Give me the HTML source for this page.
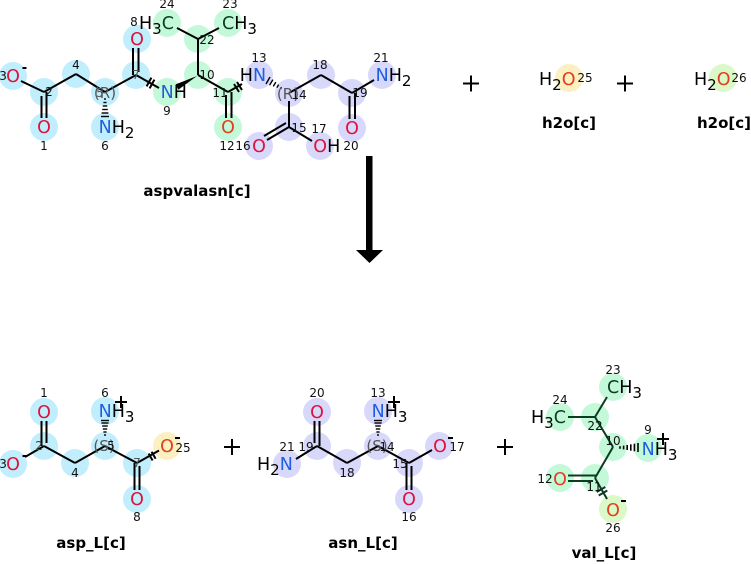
<!DOCTYPE html>
<html><head><meta charset="utf-8"><style>
html,body{margin:0;padding:0;background:#fff;}
svg{display:block;}
text{font-family:"DejaVu Sans","Liberation Sans",sans-serif;}
.a{font-size:17.5px;}
.s{font-size:15px;}
.n{font-size:12px;fill:#111;text-anchor:middle;}
.st{font-size:15px;fill:#555;text-anchor:middle;}
.nm{font-size:15px;font-weight:bold;fill:#000;text-anchor:middle;}
.O{fill:#dc143c;} .Oo{fill:#e0401a;} .N{fill:#1e5ee0;} .C{fill:#0b3d20;} .H{fill:#000;}
</style></head><body>
<svg width="751" height="564" viewBox="0 0 751 564" xmlns="http://www.w3.org/2000/svg">
<!-- ===== highlight circles top ===== -->
<g fill="#c0eefc">
<circle cx="13" cy="76" r="14"/><circle cx="44" cy="92" r="14"/><circle cx="76" cy="74" r="14"/>
<circle cx="105" cy="92" r="14"/><circle cx="44" cy="127" r="14"/><circle cx="105" cy="127" r="14"/>
<circle cx="136" cy="75" r="14"/><circle cx="137" cy="39" r="14"/>
</g>
<g fill="#c3f9d9">
<circle cx="167" cy="92" r="14"/><circle cx="198" cy="75" r="14"/><circle cx="198" cy="39" r="14"/>
<circle cx="167" cy="23" r="14"/><circle cx="228" cy="23" r="14"/><circle cx="228" cy="92" r="14"/>
<circle cx="228" cy="127" r="14"/>
</g>
<g fill="#d8d8fb">
<circle cx="259" cy="75" r="14"/><circle cx="289" cy="93" r="14"/><circle cx="321" cy="75" r="14"/>
<circle cx="352" cy="93" r="14"/><circle cx="382" cy="75" r="14"/><circle cx="352" cy="128" r="14"/>
<circle cx="289" cy="127" r="14"/><circle cx="259" cy="146" r="14"/><circle cx="320" cy="146" r="14"/>
</g>
<circle cx="569" cy="78" r="14" fill="#fcefc2"/>
<circle cx="723" cy="78" r="14" fill="#daf8c8"/>

<!-- ===== circles bottom ===== -->
<g fill="#c0eefc">
<circle cx="44" cy="412" r="14"/><circle cx="44" cy="446" r="14"/><circle cx="13" cy="464" r="14"/>
<circle cx="75" cy="463" r="14"/><circle cx="105" cy="446" r="14"/><circle cx="105" cy="411" r="14"/>
<circle cx="137" cy="463" r="14"/><circle cx="137" cy="499" r="14"/>
</g>
<circle cx="167" cy="446" r="14" fill="#fcefc2"/>
<g fill="#d8d8fb">
<circle cx="317" cy="412" r="14"/><circle cx="317" cy="446" r="14"/><circle cx="287" cy="464" r="14"/>
<circle cx="347" cy="463" r="14"/><circle cx="378" cy="446" r="14"/><circle cx="378" cy="411" r="14"/>
<circle cx="409" cy="463" r="14"/><circle cx="409" cy="499" r="14"/><circle cx="439" cy="446" r="14"/>
</g>
<g fill="#c3f9d9">
<circle cx="613" cy="387" r="14"/><circle cx="560" cy="417" r="14"/><circle cx="595" cy="417" r="14"/>
<circle cx="613" cy="447" r="14"/><circle cx="648" cy="448" r="14"/><circle cx="595" cy="478" r="14"/>
<circle cx="560" cy="478" r="14"/>
</g>
<circle cx="613" cy="509" r="14" fill="#daf8c8"/>

<!-- ===== bonds top ===== -->
<g stroke="#000" stroke-width="2" fill="none" stroke-linecap="butt">
<line x1="21" y1="81" x2="44" y2="92"/>
<line x1="41.5" y1="96" x2="41.5" y2="118"/><line x1="46.5" y1="92" x2="46.5" y2="118"/>
<line x1="44" y1="92" x2="76" y2="74"/>
<line x1="76" y1="74" x2="105" y2="92"/>
<line x1="105" y1="92" x2="136" y2="75"/>
<line x1="133" y1="48" x2="133" y2="75"/><line x1="138.5" y1="48" x2="138.5" y2="72"/>
<line x1="136" y1="75" x2="159" y2="88"/>
<line x1="198" y1="75" x2="198" y2="39"/>
<line x1="198" y1="39" x2="177" y2="28"/>
<line x1="198" y1="39" x2="219" y2="28"/>
<line x1="198" y1="75" x2="228" y2="92"/>
<line x1="226" y1="95" x2="226" y2="118"/><line x1="231.5" y1="92" x2="231.5" y2="118"/>
<line x1="228" y1="92" x2="242" y2="84"/>
<line x1="289" y1="93" x2="321" y2="75"/>
<line x1="321" y1="75" x2="352" y2="93"/>
<line x1="352" y1="93" x2="374" y2="80"/>
<line x1="349.5" y1="96" x2="349.5" y2="119"/><line x1="355" y1="93" x2="355" y2="119"/>
<line x1="289" y1="101" x2="289" y2="127"/>
<line x1="289" y1="127" x2="267" y2="140"/><line x1="286" y1="123" x2="264" y2="136"/>
<line x1="289" y1="127" x2="312" y2="141"/>
<!-- cross ticks -->
<line x1="146.6" y1="86.4" x2="151.4" y2="77.6"/><line x1="149.6" y1="88.4" x2="154.4" y2="79.6"/>
<line x1="234" y1="84" x2="239" y2="92"/><line x1="237" y1="82" x2="242" y2="90"/>
</g>
<!-- hashed wedges top -->
<g stroke="#000" stroke-width="1.4">
<line x1="104" y1="99" x2="106" y2="99"/><line x1="103.4" y1="102.5" x2="106.6" y2="102.5"/>
<line x1="102.8" y1="106" x2="107.2" y2="106"/><line x1="102.2" y1="109.5" x2="107.8" y2="109.5"/>
<line x1="101.6" y1="113" x2="108.4" y2="113"/><line x1="101" y1="116.5" x2="109" y2="116.5"/>
<line x1="281.5" y1="87.1" x2="280.5" y2="88.9"/><line x1="278.6" y1="84.6" x2="276.9" y2="87.6"/>
<line x1="275.8" y1="82.1" x2="273.3" y2="86.4"/><line x1="272.9" y1="79.6" x2="269.6" y2="85.2"/>
<line x1="270" y1="77" x2="266" y2="84"/>
</g>
<polygon points="197,76 175.6,84.4 178.4,89.6" fill="#000"/>

<!-- ===== top labels ===== -->
<text class="a O" x="13" y="82" text-anchor="middle">O</text>
<text class="n" x="3" y="80">3</text>
<line x1="22.5" y1="68" x2="26.5" y2="68" stroke="#000" stroke-width="2"/>
<text class="n" x="49" y="96" fill="#444">2</text>
<text class="n" x="76" y="69">4</text>
<text class="a O" x="44" y="133" text-anchor="middle">O</text>
<text class="n" x="44" y="150">1</text>
<text class="st" x="105" y="98">(R)</text>
<text class="n" x="100" y="97" style="fill:#555">5</text>
<text class="a" x="98.6" y="133"><tspan class="N">N</tspan><tspan class="H">H</tspan><tspan class="s" dy="5">2</tspan></text>
<text class="n" x="105" y="150">6</text>
<text class="n" x="136" y="79" style="fill:#555">7</text>
<text class="a O" x="137" y="45" text-anchor="middle">O</text>
<text class="n" x="134" y="26">8</text>
<text class="a" x="160.6" y="98"><tspan class="N">N</tspan><tspan class="H">H</tspan></text>
<text class="n" x="167" y="115">9</text>
<text class="n" x="207" y="79">10</text>
<text class="n" x="220" y="97">11</text>
<text class="a Oo" x="228" y="133" text-anchor="middle">O</text>
<text class="n" x="227" y="150">12</text>
<text class="n" x="243" y="150">16</text>
<text class="n" x="207" y="44">22</text>
<text class="a" x="139" y="29"><tspan class="H">H</tspan><tspan class="s H" dy="5">3</tspan><tspan class="C" dy="-5">C</tspan></text>
<text class="n" x="167" y="8">24</text>
<text class="a" x="222" y="29"><tspan class="C">C</tspan><tspan class="H">H</tspan><tspan class="s H" dy="5">3</tspan></text>
<text class="n" x="230" y="8">23</text>
<text class="a" x="239.8" y="81"><tspan class="H">H</tspan><tspan class="N">N</tspan></text>
<text class="n" x="259" y="62">13</text>
<text class="st" x="288" y="99">(R)</text>
<text class="n" x="299" y="99">14</text>
<text class="n" x="320" y="69">18</text>
<text class="n" x="360" y="97">19</text>
<text class="a" x="375.6" y="81"><tspan class="N">N</tspan><tspan class="H">H</tspan><tspan class="s" dy="5">2</tspan></text>
<text class="n" x="381" y="62">21</text>
<text class="a O" x="352" y="134" text-anchor="middle">O</text>
<text class="n" x="351" y="150">20</text>
<text class="n" x="299" y="132">15</text>
<text class="a O" x="259" y="152" text-anchor="middle">O</text>
<text class="a" x="313.3" y="152"><tspan class="O">O</tspan><tspan class="H">H</tspan></text>
<text class="n" x="319" y="133">17</text>
<text class="nm" x="197" y="196">aspvalasn[c]</text>

<!-- water -->
<text class="a" x="539" y="85"><tspan class="H">H</tspan><tspan class="s" dy="5">2</tspan><tspan class="Oo" dy="-5">O</tspan></text>
<text class="n" x="585" y="82">25</text>
<text class="nm" x="569" y="128">h2o[c]</text>
<text class="a" x="694" y="85"><tspan class="H">H</tspan><tspan class="s" dy="5">2</tspan><tspan class="Oo" dy="-5">O</tspan></text>
<text class="n" x="739" y="82">26</text>
<text class="nm" x="724" y="128">h2o[c]</text>

<!-- plus signs -->
<g stroke="#000" stroke-width="2">
<line x1="463" y1="83.5" x2="479" y2="83.5"/><line x1="471" y1="75.5" x2="471" y2="91.5"/>
<line x1="617" y1="83.5" x2="633" y2="83.5"/><line x1="625" y1="75.5" x2="625" y2="91.5"/>
<line x1="224" y1="447" x2="240" y2="447"/><line x1="232" y1="439" x2="232" y2="455"/>
<line x1="497" y1="447" x2="513" y2="447"/><line x1="505" y1="439" x2="505" y2="455"/>
</g>

<!-- arrow -->
<rect x="366" y="156" width="6.5" height="95" fill="#000"/>
<polygon points="356,250 383,250 369.5,263" fill="#000"/>

<!-- ===== bottom asp_L ===== -->
<g stroke="#000" stroke-width="2" fill="none">
<line x1="41.5" y1="421" x2="41.5" y2="446"/><line x1="46.5" y1="421" x2="46.5" y2="443"/>
<line x1="44" y1="446" x2="25" y2="457"/>
<line x1="44" y1="446" x2="75" y2="463"/>
<line x1="75" y1="463" x2="105" y2="446"/>
<line x1="105" y1="446" x2="137" y2="463"/>
<line x1="134.5" y1="463" x2="134.5" y2="490"/><line x1="139.5" y1="466" x2="139.5" y2="490"/>
<line x1="137" y1="463" x2="159" y2="450.5"/>
<line x1="148.6" y1="453.5" x2="152.6" y2="460.5"/><line x1="151.6" y1="451.8" x2="155.6" y2="458.8"/>
</g>
<g stroke="#000" stroke-width="1.4">
<line x1="104" y1="435" x2="106" y2="435"/><line x1="103.4" y1="432" x2="106.6" y2="432"/>
<line x1="102.8" y1="429" x2="107.2" y2="429"/><line x1="102.2" y1="426" x2="107.8" y2="426"/>
<line x1="101.4" y1="423" x2="108.6" y2="423"/><line x1="101" y1="420.5" x2="109" y2="420.5"/>
</g>
<text class="a O" x="44" y="418" text-anchor="middle">O</text>
<text class="n" x="44" y="397">1</text>
<text class="n" x="39" y="450" style="fill:#444">2</text>
<text class="a O" x="13" y="470" text-anchor="middle">O</text>
<text class="n" x="3" y="468">3</text>
<line x1="22.5" y1="456" x2="26.5" y2="456" stroke="#000" stroke-width="2"/>
<text class="n" x="75" y="477">4</text>
<text class="st" x="104" y="451">(S)</text>
<text class="n" x="111" y="450">5</text>
<text class="a" x="98.6" y="417"><tspan class="N">N</tspan><tspan class="H">H</tspan><tspan class="s" dy="5">3</tspan></text>
<text class="n" x="105" y="397">6</text>
<g stroke="#000" stroke-width="2"><line x1="115" y1="402" x2="127" y2="402"/><line x1="121" y1="396" x2="121" y2="408"/></g>
<text class="n" x="137" y="467" style="fill:#555">7</text>
<text class="a O" x="137" y="505" text-anchor="middle">O</text>
<text class="n" x="137" y="521">8</text>
<text class="a Oo" x="167" y="452" text-anchor="middle">O</text>
<line x1="175" y1="438" x2="180" y2="438" stroke="#000" stroke-width="2"/>
<text class="n" x="183" y="452">25</text>
<text class="nm" x="91" y="548">asp_L[c]</text>

<!-- ===== bottom asn_L ===== -->
<g stroke="#000" stroke-width="2" fill="none">
<line x1="314.5" y1="421" x2="314.5" y2="443"/><line x1="319.5" y1="421" x2="319.5" y2="446"/>
<line x1="317" y1="446" x2="296" y2="459"/>
<line x1="317" y1="446" x2="347" y2="463"/>
<line x1="347" y1="463" x2="378" y2="446"/>
<line x1="378" y1="446" x2="409" y2="463"/>
<line x1="406.5" y1="463" x2="406.5" y2="490"/><line x1="411.5" y1="466" x2="411.5" y2="490"/>
<line x1="409" y1="463" x2="432" y2="450"/>
</g>
<g stroke="#000" stroke-width="1.4">
<line x1="377" y1="435" x2="379" y2="435"/><line x1="376.4" y1="432" x2="379.6" y2="432"/>
<line x1="375.8" y1="429" x2="380.2" y2="429"/><line x1="375.2" y1="426" x2="380.8" y2="426"/>
<line x1="374.4" y1="423" x2="381.6" y2="423"/><line x1="374" y1="420.5" x2="382" y2="420.5"/>
</g>
<text class="a O" x="317" y="418" text-anchor="middle">O</text>
<text class="n" x="317" y="397">20</text>
<text class="n" x="306" y="451">19</text>
<text class="a" x="257" y="470"><tspan class="H">H</tspan><tspan class="s H" dy="5">2</tspan><tspan class="N" dy="-5">N</tspan></text>
<text class="n" x="287" y="451">21</text>
<text class="n" x="347" y="477">18</text>
<text class="st" x="377" y="451">(S)</text>
<text class="n" x="387" y="451">14</text>
<text class="a" x="371.6" y="417"><tspan class="N">N</tspan><tspan class="H">H</tspan><tspan class="s" dy="5">3</tspan></text>
<text class="n" x="378" y="397">13</text>
<g stroke="#000" stroke-width="2"><line x1="388" y1="402" x2="400" y2="402"/><line x1="394" y1="396" x2="394" y2="408"/></g>
<text class="n" x="400" y="468">15</text>
<text class="a O" x="409" y="505" text-anchor="middle">O</text>
<text class="n" x="409" y="521">16</text>
<text class="a O" x="440" y="452" text-anchor="middle">O</text>
<line x1="448" y1="438" x2="453" y2="438" stroke="#000" stroke-width="2"/>
<text class="n" x="457" y="451">17</text>
<text class="nm" x="363" y="548">asn_L[c]</text>

<!-- ===== bottom val_L ===== -->
<g stroke="#0b3d20" stroke-width="2" fill="none">
<line x1="595" y1="417" x2="568" y2="417"/>
<line x1="595" y1="417" x2="607" y2="397"/>
<line x1="595" y1="417" x2="613" y2="447"/>
<line x1="613" y1="447" x2="595" y2="478"/>
<line x1="596" y1="475.5" x2="568" y2="475.5"/><line x1="593" y1="481" x2="568" y2="481"/>
<line x1="595" y1="478" x2="607" y2="499"/>
<line x1="596.7" y1="492" x2="605.3" y2="487"/><line x1="598.7" y1="495.5" x2="607.3" y2="490.5"/>
</g>
<g stroke="#000" stroke-width="1.6">
<line x1="620" y1="446.2" x2="620" y2="448.8"/><line x1="623.6" y1="445.6" x2="623.6" y2="449.4"/>
<line x1="627.2" y1="445" x2="627.2" y2="450"/><line x1="630.8" y1="444.3" x2="630.8" y2="450.7"/>
<line x1="634.4" y1="443.7" x2="634.4" y2="451.3"/><line x1="638" y1="443" x2="638" y2="452"/>
</g>
<text class="a" x="607" y="393"><tspan class="C">C</tspan><tspan class="H">H</tspan><tspan class="s H" dy="5">3</tspan></text>
<text class="n" x="613" y="374">23</text>
<text class="a" x="531" y="423"><tspan class="H">H</tspan><tspan class="s H" dy="5">3</tspan><tspan class="C" dy="-5">C</tspan></text>
<text class="n" x="560" y="404">24</text>
<text class="n" x="595" y="430">22</text>
<text class="n" x="613" y="445">10</text>
<text class="a" x="641.6" y="455"><tspan class="N">N</tspan><tspan class="H">H</tspan><tspan class="s" dy="5">3</tspan></text>
<text class="n" x="648" y="434">9</text>
<g stroke="#000" stroke-width="2"><line x1="657" y1="439" x2="669" y2="439"/><line x1="663" y1="433" x2="663" y2="445"/></g>
<text class="n" x="594" y="491">11</text>
<text class="a Oo" x="560" y="485" text-anchor="middle">O</text>
<text class="n" x="545" y="483">12</text>
<text class="a Oo" x="613" y="516" text-anchor="middle">O</text>
<line x1="621" y1="501" x2="626" y2="501" stroke="#000" stroke-width="2"/>
<text class="n" x="613" y="532">26</text>
<text class="nm" x="604" y="558">val_L[c]</text>
</svg>
</body></html>
